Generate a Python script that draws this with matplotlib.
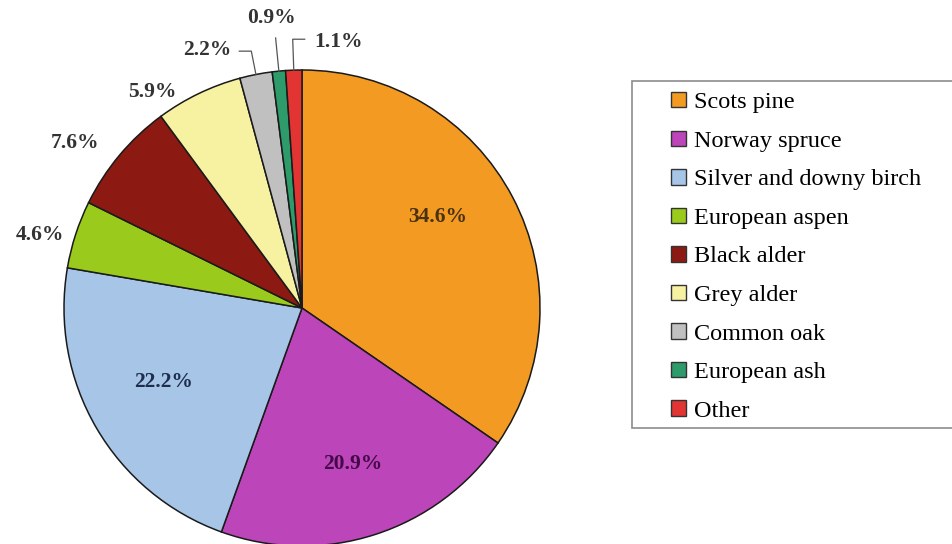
import numpy as np
import matplotlib
matplotlib.use("Agg")
import matplotlib.pyplot as plt
from matplotlib.patches import Rectangle

plt.rcParams["font.family"] = ["Liberation Serif", "DejaVu Serif"]

species = ["Scots pine", "Norway spruce", "Silver and downy birch", "European aspen",
           "Black alder", "Grey alder", "Common oak", "European ash", "Other"]
shares = [34.6, 20.9, 22.2, 4.6, 7.6, 5.9, 2.2, 0.9, 1.1]
colors = ["#F39A22", "#BC45B9", "#A6C5E7", "#9ACB1C", "#8C1A12",
          "#F7F1A2", "#C0C0C0", "#2E9B6B", "#E33434"]

# label placement: radial distance (in radii) and angular nudge (deg)
label_r = [0.685, 0.69, 0.66, 1.143, 1.18, 1.105, 1.155, 1.225, 1.127]
label_dth = [6, 0, -2, 2.4, 4, 9, 9, 0.5, -9.7]
label_colors = ["#4a3110", "#45094a", "#1e2f4e", "#333333", "#333333",
                "#333333", "#333333", "#333333", "#333333"]

W, H = 952, 544
cx, cy, R = 302, H - 308, 238

fig = plt.figure(figsize=(W / 100, H / 100), dpi=100)
ax = fig.add_axes([0, 0, 1, 1])
wedges, _ = ax.pie(shares, colors=colors, startangle=90, counterclock=False,
                   center=(cx, cy), radius=R,
                   wedgeprops=dict(edgecolor="#1a1a1a", linewidth=1.1))
ax.set_xlim(0, W)
ax.set_ylim(0, H)
ax.set_aspect("equal")
ax.axis("off")


def polar(ang, r):
    a = np.deg2rad(ang)
    return cx + r * R * np.cos(a), cy + r * R * np.sin(a)


for i, (w, v) in enumerate(zip(wedges, shares)):
    mid = (w.theta1 + w.theta2) / 2
    tx, ty = polar(mid + label_dth[i], label_r[i])
    ax.text(tx, ty, f"{v:.1f}%", ha="center", va="center", fontsize=15.5,
            fontweight="bold", color=label_colors[i])

    # leader lines for the thin slices at the top
    if species[i] in ("Common oak", "European ash", "Other"):
        x0, y0 = polar(mid, 1.0)
        knee_r = {"Common oak": 1.1, "European ash": 1.14, "Other": 1.13}[species[i]]
        x1, y1 = polar(mid, knee_r)
        xs, ys = [x0, x1], [y0, y1]
        if species[i] == "Common oak":
            xs.append(x1 - 12)
            ys.append(y1)
        elif species[i] == "Other":
            xs.append(x1 + 12)
            ys.append(y1)
        ax.plot(xs, ys, color="#555555", lw=0.9)

# legend box
fig.patches.append(Rectangle((632 / W, 1 - 428 / H), (965 - 632) / W, (428 - 81) / H,
                             transform=fig.transFigure, facecolor="white",
                             edgecolor="#8c8c8c", lw=1.2, zorder=0))
leg = fig.legend(wedges, species, loc="upper left", bbox_to_anchor=(671 / W, 1 - 92 / H),
                 frameon=False, fontsize=17.5, handlelength=0.6, handleheight=0.6,
                 handletextpad=0.36, labelspacing=0.71, borderpad=0, borderaxespad=0)
for h in leg.legend_handles:
    h.set_edgecolor("#333333")
    h.set_linewidth(1.0)

fig.savefig("out.png", dpi=100)
